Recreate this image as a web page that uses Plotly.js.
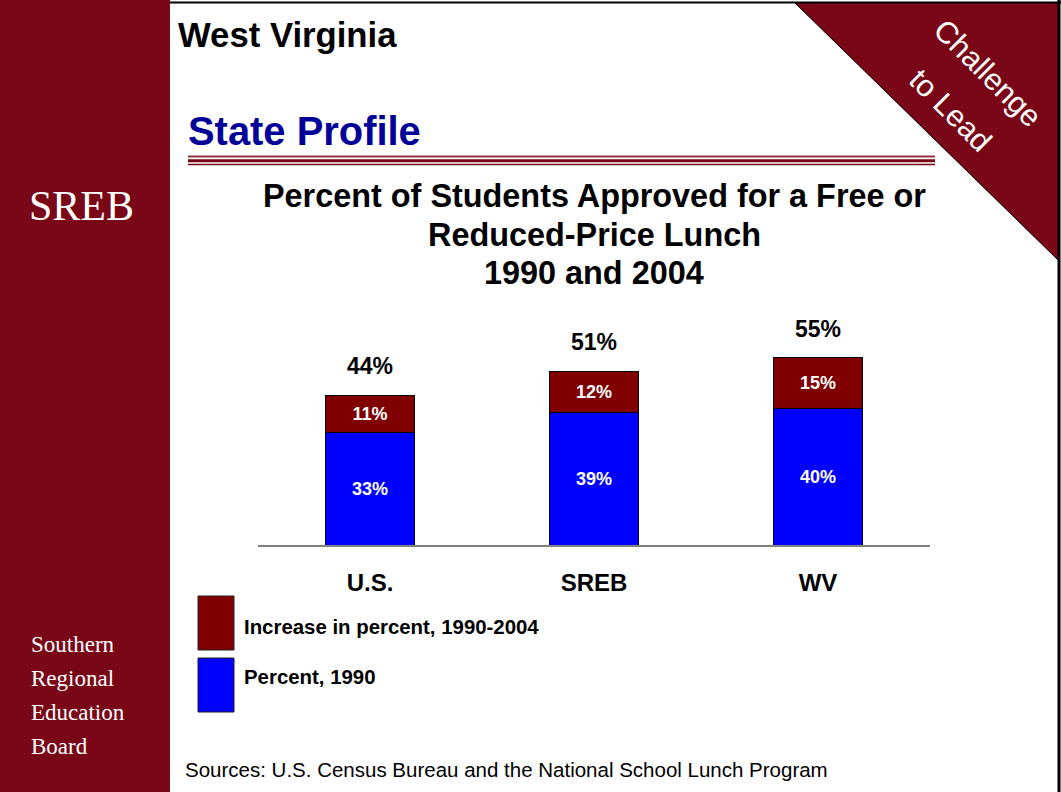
<!DOCTYPE html>
<html>
<head>
<meta charset="utf-8">
<script src="https://cdn.plot.ly/plotly-3.0.1.min.js"></script>
<style>
html,body{margin:0;padding:0;background:#fff;}
#chart{width:1061px;height:792px;}
</style>
</head>
<body>
<div id="chart"></div>
<script>
// ---- data ----
var categories = ["U.S.", "SREB", "WV"];
var percent1990 = [33, 39, 40];
var increase = [11, 12, 15];
var totals2004 = [44, 51, 55];
var seriesNames = ["Percent, 1990", "Increase in percent, 1990-2004"];
var chartTitleLines = ["Percent of Students Approved for a Free or", "Reduced-Price Lunch", "1990 and 2004"];

// ---- helpers (pixel -> paper) ----
var W = 1061, H = 792;
function px(x){ return x / W; }
function py(y){ return 1 - y / H; }

var MAROON = "#7a0717";
var BAR_RED = "#800000";
var BAR_BLUE = "#0000ff";
var SANS = "Liberation Sans, Arial, sans-serif";
var SERIF = "Liberation Serif, Times New Roman, serif";

var traces = [
  {
    type: "bar", name: seriesNames[0], x: categories, y: percent1990,
    marker: {color: BAR_BLUE, line: {color: "#000", width: 1}},
    texttemplate: "%{y}%", textposition: "inside", insidetextanchor: "middle",
    textfont: {family: SANS, size: 18, color: "#fff", weight: "bold"},
    constraintext: "none", hoverinfo: "skip", showlegend: false
  },
  {
    type: "bar", name: seriesNames[1], x: categories, y: increase,
    marker: {color: BAR_RED, line: {color: "#000", width: 1}},
    texttemplate: "%{y}%", textposition: "inside", insidetextanchor: "middle",
    textfont: {family: SANS, size: 18, color: "#fff", weight: "bold"},
    constraintext: "none", hoverinfo: "skip", showlegend: false
  }
];

var shapes = [
  // sidebar
  {type:"rect", xref:"paper", yref:"paper", x0:0, x1:px(170), y0:0, y1:1,
   fillcolor: MAROON, line:{width:0}, layer:"below"},
  // top border
  {type:"line", xref:"paper", yref:"paper", x0:px(170), x1:1, y0:py(2.5), y1:py(2.5),
   line:{color:"#000", width:2}},
  // right border
  {type:"line", xref:"paper", yref:"paper", x0:px(1059), x1:px(1059), y0:0, y1:1,
   line:{color:"#000", width:3}},
  // triangle corner
  {type:"path", xref:"paper", yref:"paper",
   path: "M " + px(795) + "," + py(3) + " L " + px(1058) + "," + py(3) + " L " + px(1058) + "," + py(260) + " Z",
   fillcolor: MAROON, line:{color:"#000", width:1}},
  // triple rule under State Profile
  {type:"line", xref:"paper", yref:"paper", x0:px(188), x1:px(935), y0:py(156.5), y1:py(156.5),
   line:{color:"#953344", width:2}},
  {type:"line", xref:"paper", yref:"paper", x0:px(188), x1:px(935), y0:py(160.8), y1:py(160.8),
   line:{color:MAROON, width:3}},
  {type:"line", xref:"paper", yref:"paper", x0:px(188), x1:px(935), y0:py(164.5), y1:py(164.5),
   line:{color:MAROON, width:1.5}},
  // legend swatches
  {type:"rect", xref:"paper", yref:"paper", x0:px(198), x1:px(234), y0:py(650), y1:py(596),
   fillcolor: BAR_RED, line:{color:"#222", width:1}},
  {type:"rect", xref:"paper", yref:"paper", x0:px(198), x1:px(234), y0:py(712), y1:py(658),
   fillcolor: BAR_BLUE, line:{color:"#222", width:1}}
];

var annotations = [
  {xref:"paper", yref:"paper", x:px(176), y:py(35), xanchor:"left", yanchor:"middle",
   text:"West Virginia", showarrow:false, font:{family:SANS, size:34.7, color:"#000", weight:"bold"}},
  {xref:"paper", yref:"paper", x:px(186), y:py(131), xanchor:"left", yanchor:"middle",
   text:"State Profile", showarrow:false, font:{family:SANS, size:39.9, color:"#000099", weight:"bold"}},
  {xref:"paper", yref:"paper", x:px(81), y:py(206), xanchor:"center", yanchor:"middle",
   text:"SREB", showarrow:false, font:{family:SERIF, size:42, color:"#fff"}},
  {xref:"paper", yref:"paper", x:px(29), y:py(644), xanchor:"left", yanchor:"middle",
   text:"Southern", showarrow:false, font:{family:SERIF, size:23, color:"#fff"}},
  {xref:"paper", yref:"paper", x:px(29), y:py(678), xanchor:"left", yanchor:"middle",
   text:"Regional", showarrow:false, font:{family:SERIF, size:23, color:"#fff"}},
  {xref:"paper", yref:"paper", x:px(29), y:py(712), xanchor:"left", yanchor:"middle",
   text:"Education", showarrow:false, font:{family:SERIF, size:23, color:"#fff"}},
  {xref:"paper", yref:"paper", x:px(29), y:py(746), xanchor:"left", yanchor:"middle",
   text:"Board", showarrow:false, font:{family:SERIF, size:23, color:"#fff"}},
  {xref:"paper", yref:"paper", x:px(987), y:py(73), xanchor:"center", yanchor:"middle",
   text:"Challenge", showarrow:false, textangle:45, font:{family:SANS, size:30.5, color:"#fff"}},
  {xref:"paper", yref:"paper", x:px(951), y:py(110), xanchor:"center", yanchor:"middle",
   text:"to Lead", showarrow:false, textangle:45, font:{family:SANS, size:30.5, color:"#fff"}},
  {xref:"paper", yref:"paper", x:px(242), y:py(627), xanchor:"left", yanchor:"middle",
   text:seriesNames[1], showarrow:false, font:{family:SANS, size:20.4, color:"#000", weight:"bold"}},
  {xref:"paper", yref:"paper", x:px(242), y:py(677), xanchor:"left", yanchor:"middle",
   text:seriesNames[0], showarrow:false, font:{family:SANS, size:20.4, color:"#000", weight:"bold"}},
  {xref:"paper", yref:"paper", x:px(183), y:py(769), xanchor:"left", yanchor:"middle",
   text:"Sources: U.S. Census Bureau and the National School Lunch Program", showarrow:false,
   font:{family:SANS, size:20.5, color:"#000"}}
];

// chart title lines
var titleY = [196, 235, 273];
for (var t = 0; t < chartTitleLines.length; t++) {
  annotations.push({xref:"paper", yref:"paper", x:px(594), y:py(titleY[t]), xanchor:"center", yanchor:"middle",
    text: chartTitleLines[t], showarrow:false, font:{family:SANS, size:32.4, color:"#000", weight:"bold"}});
}

// totals above bars
for (var i = 0; i < categories.length; i++) {
  annotations.push({
    xref:"x", yref:"y", x:categories[i], y:totals2004[i], yshift:29,
    xanchor:"center", yanchor:"middle", text: totals2004[i] + "%", showarrow:false,
    font:{family:SANS, size:23, color:"#000", weight:"bold"}
  });
}

var layout = {
  width: W, height: H,
  margin: {l:0, r:0, t:0, b:0},
  paper_bgcolor: "#fff", plot_bgcolor: "rgba(0,0,0,0)",
  barmode: "stack", bargap: 0.6,
  showlegend: false,
  xaxis: {
    domain: [px(258), px(930)],
    type: "category",
    showline: true, linecolor: "#808080", linewidth: 2,
    ticks: "", showgrid: false, zeroline: false,
    tickfont: {family: SANS, size: 24, color: "#000", weight: "bold"},
    ticklabelstandoff: 15
  },
  yaxis: {
    domain: [py(545), py(340.5)],
    range: [0, 60],
    showticklabels: false, showgrid: false, zeroline: false, showline: false, ticks: ""
  },
  shapes: shapes,
  annotations: annotations,
  hovermode: false
};

Plotly.newPlot("chart", traces, layout, {displayModeBar: false, staticPlot: true});
</script>
</body>
</html>
